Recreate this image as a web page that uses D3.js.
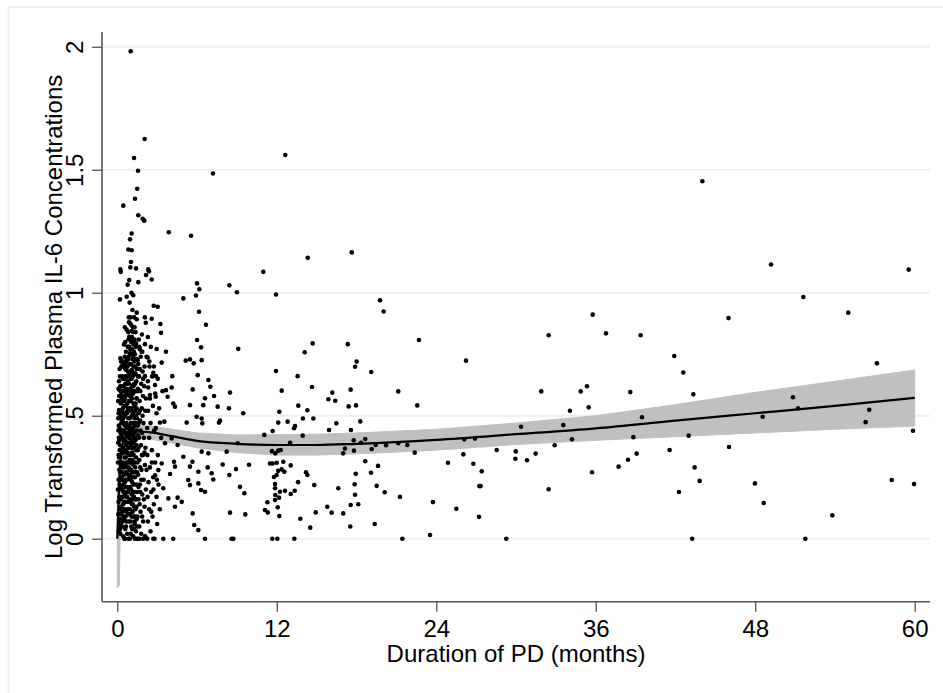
<!DOCTYPE html>
<html>
<head>
<meta charset="utf-8">
<script src="https://cdn.jsdelivr.net/npm/d3@7"></script>
<style>
body { margin: 0; background: #fff; }
text { font-family: "Liberation Sans", Arial, sans-serif; }
</style>
</head>
<body>
<div id="chart"></div>
<script>
'use strict';

const durationTicks = [0, 12, 24, 36, 48, 60];
const il6Ticks = [0, 0.5, 1, 1.5, 2];
const il6TickLabels = ['0', '.5', '1', '1.5', '2'];

// fitted curve with its confidence band
const fitMonths = [0.0, 0.15, 0.3, 0.5, 1, 1.5, 2.5, 4, 6, 9, 12, 15, 18, 24, 30, 36, 42, 48, 54, 60];
const fitValues = [0.0, 0.24, 0.35, 0.4, 0.43, 0.436, 0.432, 0.418, 0.398, 0.386, 0.381, 0.381, 0.386, 0.402, 0.425, 0.449, 0.48, 0.51, 0.54, 0.573];
const fitLower = [-0.2, -0.19, 0.28, 0.36, 0.4, 0.41, 0.405, 0.39, 0.37, 0.35, 0.34, 0.34, 0.345, 0.36, 0.383, 0.4, 0.415, 0.43, 0.445, 0.458];
const fitUpper = [0.2, 0.33, 0.4, 0.44, 0.46, 0.462, 0.458, 0.446, 0.43, 0.422, 0.423, 0.425, 0.43, 0.445, 0.47, 0.5, 0.545, 0.595, 0.64, 0.686];

// [months, log IL-6]
const highPoints = [[1.01,1.982],[2.06,1.625],[1.26,1.548],[1.56,1.496],[7.2,1.485],[1.5,1.423],[1.33,1.382],[0.45,1.354],[1.58,1.315],[1.91,1.301],[2.03,1.293],[3.87,1.246],[5.55,1.232],[1.08,1.241],[0.96,1.217],[0.83,1.176],[1.08,1.173],[1.03,1.125],[0.98,1.103],[1.41,1.099],[2.33,1.095],[0.23,1.095],[12.64,1.56]];

const earlyPoints = [[0.26,1.085],[0.9,1.052],[0.78,1.033],[1.58,1.043],[2.16,1.072],[2.39,1.087],[2.59,1.054],[0.2,0.973],[0.71,0.984],[6.0,1.038],[6.17,1.014],[5.92,0.989],[4.97,0.977],[8.43,1.03],[9.0,1.002],[2.74,0.947],[3.04,0.943],[6.15,0.923],[0.86,0.9],[1.46,0.919],[1.46,0.892],[2.08,0.9],[2.59,0.894],[2.14,0.878],[0.96,0.876],[1.08,0.844],[3.24,0.873],[3.29,0.837],[6.67,0.87],[0.9,0.821],[1.1,0.804],[0.83,0.78],[0.93,0.754],[1.41,0.794],[1.66,0.78],[2.08,0.791],[1.84,0.76],[2.96,0.771],[3.66,0.76],[6.0,0.808],[6.3,0.778],[9.1,0.772],[0.23,0.733],[0.33,0.724],[0.83,0.729],[1.2,0.737],[1.53,0.726],[2.29,0.737],[2.41,0.72],[3.34,0.716],[5.15,0.724],[5.47,0.729],[5.75,0.713],[6.35,0.726],[0.68,0.686],[1.08,0.686],[1.33,0.672],[1.71,0.689],[2.08,0.661],[2.71,0.675],[2.91,0.661],[4.14,0.661],[6.05,0.665],[6.85,0.645],[7.0,0.618],[0.13,0.607],[0.28,0.584],[0.63,0.607],[0.83,0.632],[1.2,0.625],[1.58,0.604],[1.03,0.577],[1.46,0.571],[2.33,0.615],[2.84,0.625],[2.46,0.584],[2.89,0.577],[3.66,0.604],[4.09,0.615],[3.79,0.577],[5.67,0.607],[6.6,0.571],[6.47,0.543],[7.28,0.58],[7.55,0.537],[8.48,0.594],[8.4,0.53],[5.47,0.543],[4.21,0.55],[4.34,0.537],[0.13,0.523],[0.38,0.51],[0.71,0.516],[5.97,0.496],[6.35,0.489],[6.4,0.469],[7.73,0.48],[7.65,0.472],[5.22,0.472],[9.48,0.51],[3.21,0.472],[3.54,0.476],[3.59,0.388],[4.09,0.408],[4.54,0.381],[6.35,0.354],[6.85,0.347],[8.23,0.354],[9.06,0.388],[4.97,0.333],[5.65,0.313],[5.47,0.293],[6.1,0.272],[6.8,0.29],[7.1,0.266],[7.22,0.241],[7.93,0.302],[8.43,0.259],[8.93,0.283],[9.23,0.211],[9.56,0.185],[5.34,0.239],[5.47,0.218],[6.1,0.225],[6.3,0.198],[6.6,0.191],[4.34,0.293],[3.97,0.263],[4.27,0.313],[3.34,0.306],[3.09,0.279],[2.84,0.258],[3.46,0.205],[3.84,0.164],[4.54,0.167],[4.85,0.15],[4.34,0.13],[5.67,0.103],[5.79,0.056],[6.1,0.035],[8.48,0.106],[9.63,0.099],[6.6,0],[8.6,0],[8.73,0],[4.21,0],[3.46,0],[2.71,0],[2.08,0.008],[1.46,0],[0.53,0]];

// the dense cluster in the first three months
const clusterPoints = [
  [0.12,0.03],[0.25,0.06],[0.08,0.1],[0.3,0.13],[0.15,0.17],[0.35,0.2],[0.1,0.24],[0.22,0.27],[0.4,0.29],[0.13,0.33],[0.28,0.36],[0.07,0.39],[0.33,0.42],[0.18,0.45],[0.38,0.48],[0.1,0.51],[0.26,0.55],[0.14,0.58],[0.36,0.62],[0.2,0.66],[0.31,0.7],[0.09,0.15],[0.19,0.08],[0.27,0.21],[0.05,0.31],[0.37,0.35],[0.16,0.4],[0.24,0.5],[0.06,0.56],[0.34,0.57],[0.29,0.44],[0.11,0.46],[0.2,0.31],[0.39,0.11],[0.23,0.02],[0.13,0.64],[0.32,0.25],
  [0.45,0.01],[0.6,0.04],[0.75,0.02],[0.52,0.08],[0.85,0.07],[0.68,0.11],[0.44,0.14],[0.8,0.15],[0.58,0.18],[0.9,0.2],[0.49,0.22],[0.72,0.24],[0.62,0.27],[0.86,0.29],[0.43,0.31],[0.55,0.33],[0.78,0.35],[0.66,0.38],[0.47,0.4],[0.88,0.41],[0.59,0.43],[0.74,0.45],[0.5,0.47],[0.83,0.49],[0.64,0.51],[0.42,0.53],[0.77,0.55],[0.56,0.57],[0.7,0.59],[0.48,0.62],[0.87,0.63],[0.61,0.66],[0.8,0.68],[0.53,0.7],[0.73,0.73],[0.65,0.76],[0.5,0.79],[0.84,0.81],[0.57,0.86],[0.76,0.12],[0.46,0.19],[0.63,0.21],[0.82,0.26],[0.54,0.36],[0.71,0.39],[0.89,0.46],[0.45,0.58],[0.67,0.61],[0.79,0.64],[0.6,0.69],[0.52,0.26],[0.69,0.31],[0.58,0.5],[0.81,0.53],[0.74,0.17],[0.47,0.09],[0.65,0.05],[0.88,0.34],[0.42,0.44],[0.76,0.42],
  [0.95,0.0],[1.2,0.01],[1.4,0.03],[1.05,0.05],[1.3,0.07],[0.92,0.1],[1.15,0.11],[1.45,0.13],[1.0,0.15],[1.25,0.17],[1.38,0.19],[0.97,0.21],[1.12,0.23],[1.33,0.25],[1.48,0.27],[1.03,0.28],[1.2,0.3],[0.93,0.32],[1.42,0.33],[1.1,0.35],[1.28,0.37],[0.99,0.39],[1.36,0.4],[1.17,0.42],[1.47,0.44],[1.06,0.45],[1.24,0.47],[0.94,0.49],[1.4,0.5],[1.13,0.52],[1.3,0.54],[1.01,0.56],[1.44,0.57],[1.19,0.59],[0.96,0.61],[1.35,0.63],[1.08,0.65],[1.26,0.67],[1.46,0.69],[1.02,0.71],[1.16,0.73],[1.32,0.75],[0.98,0.77],[1.22,0.79],[1.1,0.82],[1.37,0.84],[1.04,0.87],[1.27,0.9],[1.14,0.93],[0.93,0.96],[1.2,0.99],[1.07,1.0],[1.31,0.06],[1.18,0.14],[1.43,0.22],[1.09,0.18],[0.97,0.26],[1.35,0.29],[1.23,0.34],[1.05,0.38],[1.45,0.38],[1.29,0.43],[1.15,0.47],[0.99,0.53],[1.38,0.55],[1.21,0.62],[1.43,0.64],[1.12,0.68],[1.28,0.72],[1.4,0.78],[1.18,0.86],[1.33,0.46],[1.11,0.57],[1.25,0.52],[0.95,0.44],[1.48,0.49],[1.07,0.31],[1.36,0.12],[1.22,0.09],[1.01,0.02],
  [1.55,0.0],[1.8,0.02],[2.1,0.01],[1.65,0.05],[1.95,0.07],[1.52,0.09],[1.75,0.11],[2.05,0.13],[1.6,0.16],[1.88,0.18],[2.15,0.2],[1.7,0.22],[1.98,0.24],[1.57,0.26],[1.82,0.28],[2.08,0.3],[1.66,0.32],[1.92,0.34],[1.53,0.36],[1.78,0.38],[2.12,0.37],[1.63,0.41],[1.86,0.43],[1.54,0.46],[1.72,0.48],[1.97,0.47],[1.6,0.51],[1.84,0.53],[2.1,0.52],[1.68,0.56],[1.93,0.58],[1.56,0.61],[1.8,0.63],[2.02,0.62],[1.64,0.66],[1.9,0.68],[1.58,0.71],[1.76,0.74],[2.05,0.7],[1.7,0.77],[1.62,0.81],[1.85,0.83],[1.74,0.19],[2.0,0.41],[1.87,0.09],
  [2.25,0.0],[2.5,0.03],[2.8,0.0],[2.3,0.07],[2.65,0.09],[3.0,0.06],[2.4,0.12],[2.75,0.14],[2.28,0.17],[2.55,0.19],[2.95,0.17],[2.35,0.23],[2.7,0.25],[3.1,0.22],[2.45,0.29],[2.85,0.31],[2.26,0.34],[2.6,0.36],[3.05,0.34],[2.4,0.41],[2.78,0.44],[2.5,0.47],[2.32,0.52],[2.68,0.54],[2.95,0.51],[2.45,0.57],[2.85,0.59],[2.3,0.64],[2.62,0.66],[2.42,0.7],[2.9,0.45],[2.55,0.11]
];

// more of the cluster, where the dots merge into a solid mass
const clusterCore = [[0.35,0.05],[0.55,0.12],[0.7,0.07],[0.95,0.12],[1.12,0.04],[1.27,0.13],[1.5,0.05],[1.68,0.14],[0.42,0.17],[0.62,0.15],[0.83,0.19],[1.04,0.2],[1.22,0.22],[1.41,0.16],[1.6,0.21],[0.32,0.24],[0.5,0.29],[0.7,0.27],[0.9,0.25],[1.15,0.27],[1.3,0.31],[1.52,0.31],[1.72,0.29],[0.28,0.3],[0.45,0.35],[0.63,0.33],[0.84,0.37],[1.0,0.34],[1.17,0.37],[1.4,0.36],[1.6,0.37],[1.85,0.34],[0.22,0.38],[0.4,0.41],[0.57,0.4],[0.79,0.43],[0.98,0.42],[1.1,0.4],[1.25,0.41],[1.55,0.42],[1.75,0.44],[0.3,0.47],[0.52,0.44],[0.68,0.47],[0.86,0.45],[1.02,0.47],[1.2,0.45],[1.37,0.47],[1.62,0.47],[0.17,0.52],[0.36,0.52],[0.54,0.54],[0.73,0.51],[0.91,0.52],[1.08,0.5],[1.22,0.55],[1.45,0.53],[1.7,0.52],[0.26,0.6],[0.44,0.6],[0.62,0.58],[0.8,0.6],[0.99,0.59],[1.14,0.62],[1.32,0.6],[1.5,0.6],[1.73,0.6],[0.38,0.66],[0.55,0.65],[0.72,0.66],[0.9,0.67],[1.05,0.68],[1.22,0.7],[1.38,0.67],[1.55,0.66],[0.28,0.72],[0.46,0.71],[0.66,0.72],[0.85,0.74],[1.06,0.75],[1.25,0.76],[1.45,0.73],[0.6,0.8],[0.78,0.78],[0.95,0.82],[1.15,0.8],[1.3,0.81],[0.7,0.85],[0.88,0.88],[1.3,0.86],[0.15,0.28],[0.18,0.36],[0.08,0.44],[0.17,0.12],[0.05,0.2],[0.3,0.05],[0.58,0.0],[0.85,0.0],[1.33,0.0],[1.68,0.0],[1.95,0.0],[0.7,0.35],[0.92,0.28],[1.14,0.16],[1.35,0.09],[0.4,0.24],[0.6,0.24],[0.8,0.31],[1.0,0.07],[1.2,0.19],[1.5,0.19],[1.8,0.24],[2.0,0.16],[2.2,0.28],[2.05,0.35],[1.9,0.5],[2.15,0.57],[2.25,0.45],[1.95,0.65],[2.2,0.74],[1.68,0.69],[1.88,0.76],[2.6,0.31],[2.72,0.2],[2.98,0.24],[3.2,0.12],[3.3,0.41],[3.15,0.53],[3.4,0.6],[2.75,0.7],[2.52,0.78],[2.3,0.82],[3.05,0.65]];

const clusterFill = [[0.2,0.04],[0.4,0.07],[0.62,0.09],[0.82,0.1],[1.08,0.09],[1.26,0.04],[1.45,0.08],[0.28,0.1],[0.5,0.15],[0.7,0.19],[0.92,0.16],[1.1,0.14],[1.32,0.16],[0.25,0.16],[0.38,0.2],[0.56,0.23],[0.77,0.21],[1.0,0.24],[1.18,0.25],[1.4,0.27],[0.18,0.22],[0.35,0.27],[0.58,0.3],[0.75,0.29],[0.96,0.31],[1.13,0.32],[1.27,0.27],[0.23,0.34],[0.43,0.37],[0.63,0.36],[0.8,0.39],[1.02,0.37],[1.22,0.39],[1.42,0.41],[0.12,0.41],[0.35,0.44],[0.55,0.46],[0.72,0.42],[0.93,0.43],[1.12,0.44],[1.3,0.49],[0.2,0.49],[0.45,0.49],[0.66,0.54],[0.85,0.56],[1.05,0.53],[1.18,0.51],[1.36,0.52],[0.3,0.56],[0.5,0.56],[0.7,0.63],[0.92,0.58],[1.1,0.6],[1.28,0.63],[0.22,0.62],[0.42,0.65],[0.6,0.63],[0.82,0.66],[1.0,0.65],[1.16,0.66],[1.34,0.7],[0.35,0.7],[0.56,0.74],[0.76,0.7],[0.95,0.71],[1.12,0.77],[0.62,0.71],[0.9,0.78],[1.05,0.8],[0.82,0.84],[1.2,0.84],[1.0,0.9],[0.15,0.07],[0.1,0.34],[0.07,0.49],[0.1,0.61],[0.18,0.69],[0.25,0.43]];

const midPoints = [[14.33,1.142],[17.64,1.164],[10.99,1.085],[11.94,0.993],[19.77,0.969],[20.04,0.924],[22.7,0.808],[14.7,0.794],[14.1,0.758],[17.34,0.791],[18.01,0.72],[17.89,0.699],[19.11,0.678],[11.94,0.682],[13.57,0.661],[26.24,0.724],[12.37,0.602],[14.65,0.617],[16.18,0.594],[15.88,0.567],[16.4,0.561],[17.56,0.606],[21.14,0.599],[12.19,0.516],[13.62,0.541],[14.3,0.522],[17.41,0.538],[17.96,0.542],[22.57,0.542],[13.97,0.489],[14.75,0.489],[12.82,0.476],[13.3,0.449],[13.37,0.458],[11.69,0.438],[12.11,0.472],[11.06,0.422],[16.48,0.469],[18.28,0.477],[13.95,0.419],[15.93,0.442],[17.58,0.442],[13.0,0.39],[11.64,0.356],[11.89,0.347],[12.11,0.358],[12.3,0.361],[17.13,0.367],[17.81,0.358],[17.0,0.347],[17.79,0.4],[18.34,0.39],[18.66,0.405],[19.14,0.365],[19.44,0.381],[20.22,0.38],[21.14,0.388],[21.82,0.381],[22.38,0.35],[26.11,0.404],[26.91,0.407],[26.04,0.343],[24.88,0.309],[26.79,0.305],[9.91,0.301],[11.49,0.306],[11.69,0.306],[11.99,0.309],[12.49,0.313],[13.05,0.298],[12.11,0.276],[12.57,0.272],[12.37,0.282],[11.79,0.251],[11.99,0.259],[14.2,0.27],[14.3,0.259],[17.94,0.264],[19.09,0.268],[19.62,0.296],[18.66,0.315],[11.87,0.222],[11.87,0.205],[12.24,0.191],[12.62,0.195],[13.05,0.182],[13.35,0.195],[13.6,0.23],[14.82,0.218],[11.89,0.178],[12.17,0.167],[11.87,0.157],[11.29,0.148],[11.11,0.117],[11.32,0.107],[12.07,0.128],[12.19,0.092],[13.77,0.081],[14.52,0.045],[14.93,0.107],[16.63,0.205],[17.86,0.221],[17.89,0.179],[17.56,0.137],[18.13,0.14],[17.53,0.05],[15.8,0.13],[16.13,0.106],[17.0,0.103],[19.52,0.215],[20.12,0.189],[21.27,0.17],[19.37,0.06],[23.75,0.149],[25.51,0.122],[11.66,0],[12.04,0],[13.32,0],[21.45,0],[23.53,0.015]];

const latePoints = [[35.77,0.911],[32.46,0.827],[36.77,0.835],[39.38,0.827],[41.91,0.743],[42.59,0.676],[43.34,0.587],[31.9,0.599],[34.87,0.599],[35.34,0.62],[38.6,0.596],[35.47,0.534],[34.06,0.52],[39.48,0.494],[33.56,0.462],[30.38,0.455],[34.21,0.404],[38.83,0.413],[42.99,0.419],[32.91,0.38],[28.55,0.361],[29.98,0.355],[29.95,0.325],[30.83,0.319],[31.48,0.346],[27.42,0.274],[27.24,0.214],[27.34,0.214],[27.22,0.089],[29.27,0],[32.46,0.201],[35.72,0.27],[37.72,0.293],[38.43,0.321],[39.08,0.346],[41.56,0.361],[42.26,0.19],[43.44,0.29],[43.82,0.235],[43.26,0],[44.02,1.453],[49.19,1.115],[59.55,1.094],[51.62,0.983],[55.0,0.919],[45.99,0.897],[57.16,0.713],[50.84,0.575],[51.22,0.53],[48.56,0.496],[56.58,0.524],[56.31,0.474],[59.87,0.439],[46.03,0.373],[47.98,0.225],[48.64,0.145],[53.8,0.095],[58.27,0.239],[59.95,0.222],[51.77,0]];

const width = 943;
const height = 693;
const plot = { left: 102, right: 930, top: 32, bottom: 601.7 };
const axisColour = '#555555';
const gridColour = '#eaf1f3';
const fontSize = 24;

const svg = d3.select('#chart')
    .append('svg')
    .attr('width', width)
    .attr('height', height)
    .style('display', 'block');

svg.append('rect')
    .attr('width', width)
    .attr('height', height)
    .attr('fill', '#ffffff');

// faint outer frame of the graph region
svg.append('rect')
    .attr('x', 8.5)
    .attr('y', 7)
    .attr('width', 960)
    .attr('height', 700)
    .attr('fill', 'none')
    .attr('stroke', '#e6eef0')
    .attr('stroke-width', 1.5);

const xScale = d3.scaleLinear()
    .domain([-1.151, 61.151])
    .range([plot.left, plot.right]);

const yScale = d3.scaleLinear()
    .domain([-0.256, 2.06])
    .range([plot.bottom, plot.top]);

// horizontal grid lines
svg.append('g')
    .selectAll('line')
    .data(il6Ticks)
    .join('line')
    .attr('x1', plot.left)
    .attr('x2', plot.right)
    .attr('y1', d => yScale(d))
    .attr('y2', d => yScale(d))
    .attr('stroke', gridColour)
    .attr('stroke-width', 2);

// confidence band
const band = d3.area()
    .x((d, i) => xScale(fitMonths[i]))
    .y0((d, i) => yScale(fitLower[i]))
    .y1((d, i) => yScale(fitUpper[i]));

svg.append('path')
    .datum(fitMonths)
    .attr('d', band)
    .attr('fill', '#c0c0c0')
    .attr('stroke', '#c0c0c0')
    .attr('stroke-width', 1);

const allPoints = highPoints.concat(earlyPoints, clusterPoints, clusterCore, clusterFill, midPoints, latePoints);

svg.append('g')
    .selectAll('circle')
    .data(allPoints)
    .join('circle')
    .attr('cx', d => xScale(d[0]))
    .attr('cy', d => yScale(d[1]))
    .attr('r', 2.3)
    .attr('fill', '#000000');

const fitLine = d3.line()
    .x((d, i) => xScale(fitMonths[i]))
    .y((d, i) => yScale(fitValues[i]))
    .curve(d3.curveMonotoneX);

svg.append('path')
    .datum(fitMonths)
    .attr('d', fitLine)
    .attr('fill', 'none')
    .attr('stroke', '#000000')
    .attr('stroke-width', 2.2);

// axes
const xAxis = d3.axisBottom(xScale)
    .tickValues(durationTicks)
    .tickSize(10)
    .tickPadding(8)
    .tickSizeOuter(0);

const xAxisG = svg.append('g')
    .attr('transform', `translate(0,${plot.bottom})`)
    .call(xAxis);

xAxisG.select('.domain')
    .attr('d', `M${plot.left},0H${plot.right}`);

const yAxis = d3.axisLeft(yScale)
    .tickValues(il6Ticks)
    .tickFormat((d, i) => il6TickLabels[i])
    .tickSize(10)
    .tickSizeOuter(0);

const yAxisG = svg.append('g')
    .attr('transform', `translate(${plot.left},0)`)
    .call(yAxis);

yAxisG.select('.domain')
    .attr('d', `M0,${plot.bottom}V${plot.top}`);

yAxisG.selectAll('.tick text')
    .attr('transform', 'rotate(-90)')
    .attr('x', 0)
    .attr('y', -19)
    .attr('dy', 0)
    .attr('text-anchor', 'middle');

[xAxisG, yAxisG].forEach(g => {
    g.select('.domain').attr('stroke', axisColour).attr('stroke-width', 1.6);
    g.selectAll('.tick line').attr('stroke', axisColour).attr('stroke-width', 1.3);
    g.selectAll('.tick text')
        .attr('fill', '#000000')
        .attr('font-size', fontSize)
        .attr('font-family', '"Liberation Sans", Arial, sans-serif');
});

svg.append('text')
    .attr('x', (plot.left + plot.right) / 2)
    .attr('y', 662)
    .attr('text-anchor', 'middle')
    .attr('font-size', fontSize)
    .attr('fill', '#000000')
    .text('Duration of PD (months)');

svg.append('text')
    .attr('transform', `translate(62,${(plot.top + plot.bottom) / 2}) rotate(-90)`)
    .attr('text-anchor', 'middle')
    .attr('font-size', fontSize)
    .attr('fill', '#000000')
    .text('Log Transformed Plasma IL-6 Concentrations');
</script>
</body>
</html>
